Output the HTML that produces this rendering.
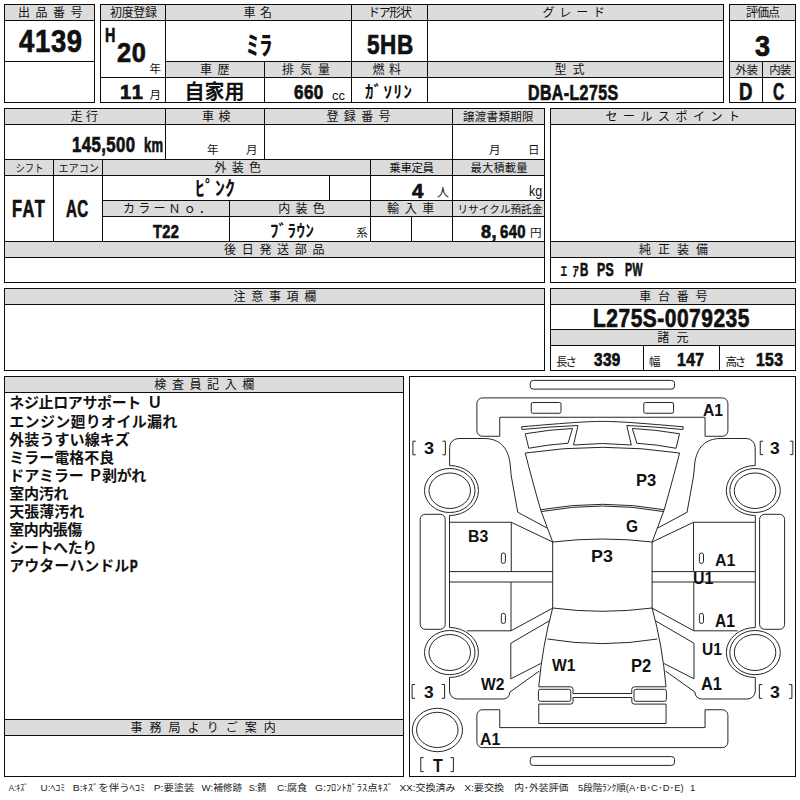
<!DOCTYPE html>
<html lang="ja"><head><meta charset="utf-8"><title>出品票 4139</title>
<style>
html,body{margin:0;padding:0;background:#fff}
body{width:800px;height:800px;position:relative;overflow:hidden;font-family:"Liberation Sans",sans-serif}
#bg{position:absolute;left:0;top:0}
#bg text{font-family:"Liberation Sans","Noto Sans CJK JP",sans-serif;fill:#111;font-kerning:none}
#bg text.b{font-weight:bold}
#bg text.lg{fill:#222;font-size:9.5px}
.t{position:absolute;white-space:pre;line-height:1;transform-origin:0 0;font-weight:bold;color:#111;font-kerning:none}
.r{font-weight:normal}
</style></head><body>
<svg id="bg" width="800" height="800" viewBox="0 0 800 800">
<rect width="800" height="800" fill="#fff"/>
<path fill="#dcdcdc" d="M5 5H94V20H5ZM101 5H723V20H101ZM166 62H723V77H166ZM730 5H795V20H730ZM730 62H795V77H730ZM5 109H544V124H5ZM5 160H544V175H5ZM103 201H544V216H103ZM5 242H544V257H5ZM551 109H795V124H551ZM551 242H795V257H551ZM5 289H544V304H5ZM551 289H795V304H551ZM551 330H795V345H551ZM5 377H403V392H5ZM5 720H403V735H5Z"/>
<path fill="#0d0d0d" d="M4 4H95V5H4ZM4 20H95V21H4ZM4 61H95V62H4ZM4 102H95V103H4ZM4 4H5V103H4ZM94 4H95V103H94ZM100 4H724V5H100ZM100 20H724V21H100ZM100 77H724V78H100ZM100 102H724V103H100ZM165 61H724V62H165ZM100 4H101V103H100ZM165 4H166V103H165ZM351 4H352V103H351ZM427 4H428V103H427ZM723 4H724V103H723ZM264 61H265V103H264ZM729 4H796V5H729ZM729 20H796V21H729ZM729 61H796V62H729ZM729 77H796V78H729ZM729 102H796V103H729ZM729 4H730V103H729ZM795 4H796V103H795ZM762 61H763V103H762ZM4 108H545V109H4ZM4 124H545V125H4ZM4 159H545V160H4ZM4 175H545V176H4ZM4 241H545V242H4ZM4 257H545V258H4ZM4 282H545V283H4ZM102 200H545V201H102ZM102 216H545V217H102ZM4 108H5V283H4ZM544 108H545V283H544ZM165 108H166V160H165ZM264 108H265V160H264ZM452 108H453V242H452ZM53 159H54V242H53ZM102 159H103V242H102ZM370 159H371V242H370ZM329 175H330V201H329ZM229 200H230V242H229ZM411 216H412V242H411ZM550 108H796V109H550ZM550 124H796V125H550ZM550 241H796V242H550ZM550 257H796V258H550ZM550 282H796V283H550ZM550 108H551V283H550ZM795 108H796V283H795ZM4 288H545V289H4ZM4 304H545V305H4ZM4 370H545V371H4ZM4 288H5V371H4ZM544 288H545V371H544ZM550 288H796V289H550ZM550 304H796V305H550ZM550 329H796V330H550ZM550 345H796V346H550ZM550 370H796V371H550ZM550 288H551V371H550ZM795 288H796V371H795ZM643 345H644V371H643ZM719 345H720V371H719ZM4 376H404V377H4ZM4 392H404V393H4ZM4 719H404V720H4ZM4 735H404V736H4ZM4 776H404V777H4ZM4 376H5V777H4ZM403 376H404V777H403ZM409 376H796V377H409ZM409 776H796V777H409ZM409 376H410V777H409ZM795 376H796V777H795Z"/>
<g fill="none" stroke="#262626" stroke-width="1"><rect x="530.25" y="380.4" width="144.3" height="8.7" rx="3"/><rect x="530.25" y="756.6" width="144.3" height="8.8" rx="3"/><path d="M482.4 397.9H722.4A5.5 5.5 0 0 1 727.9 403.4V430.75A5.5 5.5 0 0 1 722.4 436.25H705.05V417.25H499.75V436.25H482.4A5.5 5.5 0 0 1 476.9 430.75V403.4A5.5 5.5 0 0 1 482.4 397.9Z"/><path d="M482.4 709.75H499.75V727.6H705.05V709.75H722.4A5.5 5.5 0 0 1 727.9 715.25V742.1A5.5 5.5 0 0 1 722.4 747.6H482.4A5.5 5.5 0 0 1 476.9 742.1V715.25A5.5 5.5 0 0 1 482.4 709.75Z"/><ellipse cx="437.4" cy="730" rx="25.1" ry="21.7"/><ellipse cx="437.3" cy="729.9" rx="20.75" ry="17.6"/><path d="M525.25 453Q602.4 441.6 679.55 453M540.6 509.75Q602.4 498.85 664.2 509.75M541.25 511.6Q602.4 500.4 663.55 511.6M552.7 542Q602.4 536 652.1 542M552.7 608Q602.4 614.6 652.1 608M547.5 639Q602.4 648.2 657.3 639"/><path d="M573 693.5H631.8M573 697.5H631.8M538.75 723.5H666.05M573.5 445Q602.4 442 631.3 445"/><g id="lh"><rect x="531.25" y="402.5" width="29.75" height="10.75" rx="1.5"/><path d="M449.6 465.5V447.5A9 9 0 0 1 458.75 438.5H484C500 438.5 508 448 510 463L511.25 476L517.75 512.25L547 528"/><path d="M449.5 465.5A29 25 0 0 1 449.5 515.5M449.5 627.5A29 25 0 0 1 449.5 677.5"/><ellipse cx="449.75" cy="490.5" rx="25.25" ry="22"/><ellipse cx="449.75" cy="490.75" rx="20.75" ry="17.75"/><ellipse cx="449.75" cy="652.6" rx="25.25" ry="22.1"/><ellipse cx="449.75" cy="652.5" rx="20.75" ry="18"/><rect x="420.2" y="514.3" width="25" height="115" rx="5"/><path d="M449.5 515.5V627.5M449.4 522.25H511.25L552.6 542M511.25 522.25V571.6M449.4 571.6H552.9M449.4 582H552.9M511 582V630.7M467 630.8H511L552.9 608"/><rect x="501.3" y="553" width="4.1" height="10.4" rx="2"/><rect x="501.3" y="613.3" width="4.1" height="10.2" rx="2"/><path d="M525.25 453Q531 476 540.6 509.75L552.7 542V608Q542.5 645 538.75 686.8M538.75 704.1V723.5"/><path d="M510.8 643.25L549 621M540.8 663.5L510.8 678.8V643.25"/><path d="M449.5 677.5V691A8 8 0 0 0 457.75 699H503Q509 699 510 692L539.4 671"/><path d="M538.75 686.8H570.5a2.5 2.5 0 0 1 2.5 2.5V693.5M573 697.5V701.6a2.5 2.5 0 0 1 -2.5 2.5H538.75"/><rect x="538.4" y="689.3" width="32.4" height="12" rx="2"/><path d="M525.25 433.75Q549 429.6 572.5 428.5L568 443.25Q548 444.5 528.75 448.25Z"/><path d="M602.4 421.4C585 421.4 560 423.5 521.5 426.8L522 429.5Q550 426.6 578 425.5L573.5 445"/></g><use href="#lh" transform="translate(1204.8 0) scale(-1 1)"/></g>
<path fill="none" stroke="#222" stroke-width="1" d="M415.8 441.2H412.9V454.8H415.8M442.5 441.2H445.4V454.8H442.5M763.15 441.2H760.25V454.6H763.15M790 441.2H792.9V454.6H790M415 684.5H412.1V698.3H415M441.7 684.5H444.6V698.3H441.7M762.25 684.6H759.35V698.3H762.25M789 684.6H791.9V698.3H789M423.65 757.6H420.75V771.6H423.65M450.5 757.6H453.4V771.6H450.5"/>
<text x="18" y="17" font-size="12" textLength="64.5">出品番号</text>
<text x="110" y="17" font-size="12" textLength="47">初度登録</text>
<text x="243.5" y="17" font-size="12" textLength="28.5">車名</text>
<text x="368" y="17" font-size="12" textLength="44">ドア形状</text>
<text x="542.5" y="17" font-size="12" textLength="62.5">グレード</text>
<text x="746" y="17" font-size="12" textLength="34">評価点</text>
<text x="200" y="74" font-size="12" textLength="29.5">車歴</text>
<text x="282" y="74" font-size="12" textLength="48">排気量</text>
<text x="372.4" y="74" font-size="12" textLength="28.6">燃料</text>
<text x="554.5" y="74" font-size="12" textLength="30">型式</text>
<text x="735.5" y="74" font-size="11.5" textLength="22.5">外装</text>
<text x="769.3" y="74" font-size="11.5" textLength="22">内装</text>
<text x="149.5" y="73" font-size="11.5">年</text>
<text x="149.5" y="99" font-size="11.5">月</text>
<text x="70.5" y="121" font-size="12" textLength="27.5">走行</text>
<text x="202" y="121" font-size="12" textLength="28.5">車検</text>
<text x="326.5" y="121" font-size="12" textLength="64">登録番号</text>
<text x="463" y="121" font-size="11.5" textLength="70.5">譲渡書類期限</text>
<text x="605.5" y="121" font-size="12" textLength="134.5">セールスポイント</text>
<text x="207" y="154" font-size="11.5">年</text>
<text x="246" y="154" font-size="11.5">月</text>
<text x="489" y="154" font-size="11.5">月</text>
<text x="528" y="154" font-size="11.5">日</text>
<text x="15.5" y="172" font-size="10.5" textLength="28" lengthAdjust="spacingAndGlyphs">シフト</text>
<text x="58.5" y="172" font-size="10.5" textLength="40.5" lengthAdjust="spacingAndGlyphs">エアコン</text>
<text x="214.5" y="172" font-size="12" textLength="46.5">外装色</text>
<text x="389.3" y="172" font-size="11.5" textLength="44.8">乗車定員</text>
<text x="470.6" y="172" font-size="11.3" textLength="57">最大積載量</text>
<text x="437" y="197" font-size="12">人</text>
<text x="123" y="213" font-size="12" textLength="88">カラーＮｏ．</text>
<text x="278.2" y="213" font-size="12" textLength="46.6">内装色</text>
<text x="387" y="213" font-size="12" textLength="47.3">輸入車</text>
<text x="457.5" y="213" font-size="10.6" textLength="84.8" lengthAdjust="spacingAndGlyphs">リサイクル預託金</text>
<text x="356.3" y="237" font-size="11.5">系</text>
<text x="530" y="237" font-size="11.5">円</text>
<text x="224" y="254" font-size="12" textLength="100.5">後日発送部品</text>
<text x="639" y="254" font-size="12" textLength="69">純正装備</text>
<text x="233.5" y="301" font-size="12" textLength="82.8">注意事項欄</text>
<text x="639.3" y="301" font-size="12" textLength="68.2">車台番号</text>
<text x="657.3" y="342" font-size="12" textLength="31.1">諸元</text>
<text x="556" y="366" font-size="11.5" textLength="21">長さ</text>
<text x="649" y="366" font-size="11.5">幅</text>
<text x="725.5" y="366" font-size="11.5" textLength="20.8">高さ</text>
<text x="154.3" y="389" font-size="12" textLength="100">検査員記入欄</text>
<text x="130.5" y="732" font-size="12" textLength="145.3">事務局よりご案内</text>
<text class="b" x="246" y="55" font-size="26" textLength="26.5">ﾐﾗ</text>
<text class="b" x="184.5" y="99" font-size="20" textLength="60">自家用</text>
<text class="b" x="365" y="98" font-size="17" textLength="47">ｶﾞｿﾘﾝ</text>
<text class="b" x="195" y="196" font-size="20" textLength="40">ﾋﾟﾝｸ</text>
<text class="b" x="270" y="236.5" font-size="17" textLength="44">ﾌﾞﾗｳﾝ</text>
<text class="b" x="560.5" y="276" font-size="13.5" textLength="18.5">ｴｱ</text>
<text class="b" x="9.3" y="408" font-size="15" textLength="132">ネジ止ロアサポート</text>
<text class="b" x="147.3" y="408" font-size="15">Ｕ</text>
<text class="b" x="9.3" y="427" font-size="15" textLength="168">エンジン廻りオイル漏れ</text>
<text class="b" x="9.3" y="445" font-size="15" textLength="120.5">外装うすい線キズ</text>
<text class="b" x="9.3" y="463" font-size="15" textLength="105">ミラー電格不良</text>
<text class="b" x="9.3" y="481" font-size="15" textLength="74.5">ドアミラー</text>
<text class="b" x="88" y="481" font-size="15">Ｐ</text>
<text class="b" x="102" y="481" font-size="15" textLength="44.3">剥がれ</text>
<text class="b" x="9.3" y="499" font-size="15" textLength="59.3">室内汚れ</text>
<text class="b" x="9.3" y="517" font-size="15" textLength="75">天張薄汚れ</text>
<text class="b" x="9.3" y="535" font-size="15" textLength="73">室内内張傷</text>
<text class="b" x="9.3" y="553" font-size="15" textLength="88">シートへたり</text>
<text class="b" x="9.3" y="571" font-size="15" textLength="120">アウターハンドル</text>
<text class="lg" x="8.7" y="790.7" textLength="19.5" lengthAdjust="spacingAndGlyphs">A:ｷｽﾞ</text>
<text class="lg" x="40.5" y="790.7" textLength="24.8" lengthAdjust="spacingAndGlyphs">U:ﾍｺﾐ</text>
<text class="lg" x="72.7" y="790.7" textLength="72.6" lengthAdjust="spacingAndGlyphs">B:ｷｽﾞを伴うﾍｺﾐ</text>
<text class="lg" x="153.7" y="790.7" textLength="40.7" lengthAdjust="spacingAndGlyphs">P:要塗装</text>
<text class="lg" x="201.5" y="790.7" textLength="40.6" lengthAdjust="spacingAndGlyphs">W:補修跡</text>
<text class="lg" x="248.7" y="790.7" textLength="17.8" lengthAdjust="spacingAndGlyphs">S:錆</text>
<text class="lg" x="276.9" y="790.7" textLength="30.3" lengthAdjust="spacingAndGlyphs">C:腐食</text>
<text class="lg" x="315" y="790.7" textLength="78" lengthAdjust="spacingAndGlyphs">G:ﾌﾛﾝﾄｶﾞﾗｽ点ｷｽﾞ</text>
<text class="lg" x="399.4" y="790.7" textLength="56.2" lengthAdjust="spacingAndGlyphs">XX:交換済み</text>
<text class="lg" x="464.2" y="790.7" textLength="40" lengthAdjust="spacingAndGlyphs">X:要交換</text>
<text class="lg" x="514.3" y="790.7" textLength="54" lengthAdjust="spacingAndGlyphs">内･外装評価</text>
<text class="lg" x="577.9" y="790.7" textLength="105.8" lengthAdjust="spacingAndGlyphs">5段階ﾗﾝｸ順(A･B･C･D･E)</text>
<text class="lg" x="690" y="790.7">1</text>
</svg>
<span class="t" style="left:18.61px;top:27px;font-size:30.73px;transform:scaleX(0.893);-webkit-text-stroke:0.7px #111;letter-spacing:0.77px">4139</span>
<span class="t" style="left:105.32px;top:25px;font-size:20.06px;transform:scaleX(0.716);-webkit-text-stroke:0.7px #111;letter-spacing:0.50px">H</span>
<span class="t" style="left:116.90px;top:39px;font-size:27.26px;transform:scaleX(0.931);-webkit-text-stroke:0.7px #111;letter-spacing:0.68px">20</span>
<span class="t" style="left:120.02px;top:82px;font-size:20.79px;transform:scaleX(0.963);-webkit-text-stroke:0.7px #111;letter-spacing:0.52px">11</span>
<span class="t" style="left:366.59px;top:31px;font-size:27.33px;transform:scaleX(0.824);-webkit-text-stroke:0.7px #111;letter-spacing:0.68px">5HB</span>
<span class="t" style="left:293.66px;top:82px;font-size:20.20px;transform:scaleX(0.843);-webkit-text-stroke:0.7px #111;letter-spacing:0.50px">660</span>
<span class="t r" style="left:331.95px;top:90px;font-size:12.78px;transform:scaleX(1.009)">cc</span>
<span class="t" style="left:528.21px;top:83px;font-size:21.51px;transform:scaleX(0.742);-webkit-text-stroke:0.7px #111;letter-spacing:0.54px">DBA-L275S</span>
<span class="t" style="left:755.16px;top:32px;font-size:28.61px;transform:scaleX(0.945);-webkit-text-stroke:0.7px #111;letter-spacing:0.72px">3</span>
<span class="t" style="left:739.03px;top:81px;font-size:23.69px;transform:scaleX(0.787);-webkit-text-stroke:0.7px #111;letter-spacing:0.59px">D</span>
<span class="t" style="left:773.39px;top:80px;font-size:23.87px;transform:scaleX(0.653);-webkit-text-stroke:0.7px #111;letter-spacing:0.60px">C</span>
<span class="t" style="left:71.72px;top:134px;font-size:21.93px;transform:scaleX(0.765);-webkit-text-stroke:0.7px #111;letter-spacing:0.55px">145,500</span>
<span class="t" style="left:143.87px;top:134px;font-size:21.11px;transform:scaleX(0.617);-webkit-text-stroke:0.7px #111;letter-spacing:0.53px">km</span>
<span class="t" style="left:130.02px;top:558px;font-size:16.42px;transform:scaleX(0.693);-webkit-text-stroke:0.7px #111;letter-spacing:0.41px">P</span>
<span class="t" style="left:12.18px;top:198px;font-size:23.69px;transform:scaleX(0.693);-webkit-text-stroke:0.7px #111;letter-spacing:0.59px">FAT</span>
<span class="t" style="left:65.90px;top:198px;font-size:23.69px;transform:scaleX(0.639);-webkit-text-stroke:0.7px #111;letter-spacing:0.59px">AC</span>
<span class="t" style="left:412.47px;top:181px;font-size:20.79px;transform:scaleX(0.983);-webkit-text-stroke:0.7px #111;letter-spacing:0.52px">4</span>
<span class="t r" style="left:528.66px;top:185px;font-size:13.80px;transform:scaleX(0.902)">kg</span>
<span class="t" style="left:153.12px;top:223px;font-size:18.97px;transform:scaleX(0.771);-webkit-text-stroke:0.7px #111;letter-spacing:0.47px">T22</span>
<span class="t" style="left:481.46px;top:223px;font-size:18.79px;transform:scaleX(0.958);-webkit-text-stroke:0.7px #111;letter-spacing:0.47px">8,</span>
<span class="t" style="left:499.73px;top:223px;font-size:18.79px;transform:scaleX(0.793);-webkit-text-stroke:0.7px #111;letter-spacing:0.47px">640</span>
<span class="t" style="left:579.51px;top:261px;font-size:18.17px;transform:scaleX(0.635);-webkit-text-stroke:0.7px #111;letter-spacing:0.45px">B</span>
<span class="t" style="left:597.46px;top:261px;font-size:18.17px;transform:scaleX(0.674);-webkit-text-stroke:0.7px #111;letter-spacing:0.45px">PS</span>
<span class="t" style="left:624.57px;top:261px;font-size:18.17px;transform:scaleX(0.588);-webkit-text-stroke:0.7px #111;letter-spacing:0.45px">PW</span>
<span class="t" style="left:593.48px;top:306px;font-size:25.73px;transform:scaleX(0.814);-webkit-text-stroke:0.7px #111;letter-spacing:0.64px">L275S-0079235</span>
<span class="t" style="left:593.53px;top:351px;font-size:18.32px;transform:scaleX(0.837);-webkit-text-stroke:0.7px #111;letter-spacing:0.46px">339</span>
<span class="t" style="left:677.29px;top:351px;font-size:18.90px;transform:scaleX(0.835);-webkit-text-stroke:0.7px #111;letter-spacing:0.47px">147</span>
<span class="t" style="left:756.29px;top:351px;font-size:18.32px;transform:scaleX(0.857);-webkit-text-stroke:0.7px #111;letter-spacing:0.46px">153</span>
<span class="t" style="left:703.36px;top:403px;font-size:16.86px;transform:scaleX(0.932)">A1</span>
<span class="t" style="left:636.40px;top:472px;font-size:17.01px;transform:scaleX(0.971)">P3</span>
<span class="t" style="left:626.36px;top:518px;font-size:16.24px;transform:scaleX(0.958)">G</span>
<span class="t" style="left:468.34px;top:528px;font-size:17.15px;transform:scaleX(0.923)">B3</span>
<span class="t" style="left:591.31px;top:548px;font-size:17.01px;transform:scaleX(1.050)">P3</span>
<span class="t" style="left:715.10px;top:552px;font-size:17.01px;transform:scaleX(0.936)">A1</span>
<span class="t" style="left:693.04px;top:570px;font-size:17.20px;transform:scaleX(0.928)">U1</span>
<span class="t" style="left:714.61px;top:613px;font-size:17.44px;transform:scaleX(0.889)">A1</span>
<span class="t" style="left:701.57px;top:641px;font-size:17.20px;transform:scaleX(0.904)">U1</span>
<span class="t" style="left:551.98px;top:657px;font-size:17.15px;transform:scaleX(0.912)">W1</span>
<span class="t" style="left:631.39px;top:658px;font-size:17.44px;transform:scaleX(0.950)">P2</span>
<span class="t" style="left:481.23px;top:676px;font-size:17.08px;transform:scaleX(0.913)">W2</span>
<span class="t" style="left:700.59px;top:676px;font-size:17.44px;transform:scaleX(0.936)">A1</span>
<span class="t" style="left:480.21px;top:732px;font-size:16.86px;transform:scaleX(0.939)">A1</span>
<span class="t" style="left:423.68px;top:440px;font-size:17.20px;transform:scaleX(1.053)">3</span>
<span class="t" style="left:770.35px;top:440px;font-size:17.34px;transform:scaleX(1.004)">3</span>
<span class="t" style="left:424.10px;top:685px;font-size:16.91px;transform:scaleX(1.023)">3</span>
<span class="t" style="left:769.99px;top:685px;font-size:16.91px;transform:scaleX(1.047)">3</span>
<span class="t" style="left:432.57px;top:758px;font-size:17.95px;transform:scaleX(0.885)">T</span>
</body></html>
